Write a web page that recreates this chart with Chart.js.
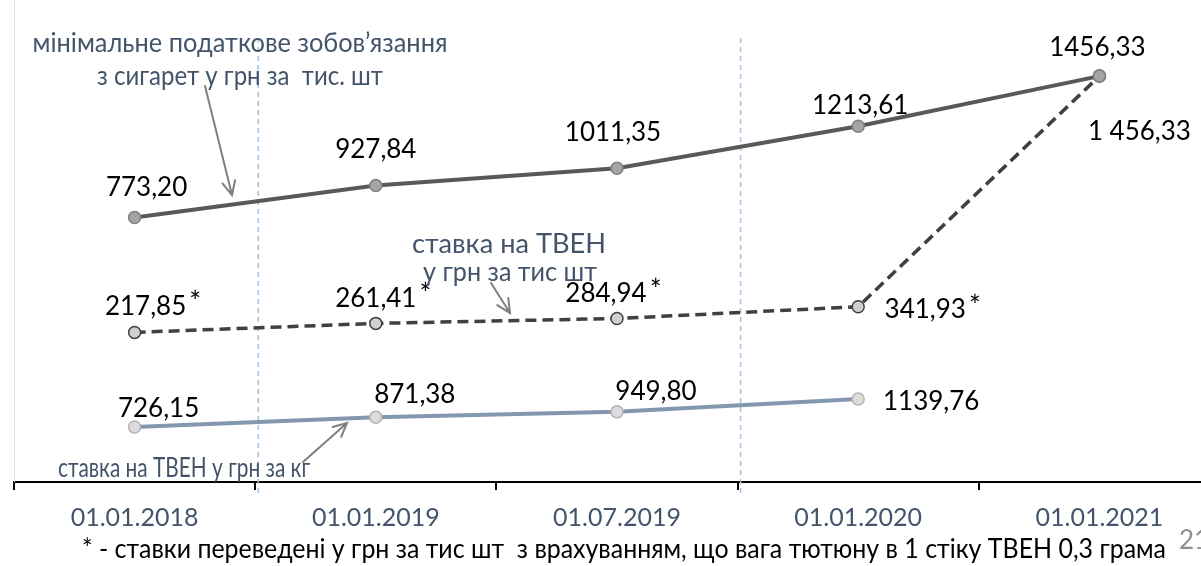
<!DOCTYPE html>
<html>
<head>
<meta charset="utf-8">
<script src="https://cdn.jsdelivr.net/npm/chart.js@4.4.1/dist/chart.umd.min.js"></script>
<style>
  html, body { margin: 0; padding: 0; background: #fff; overflow: hidden; }
  #wrap { width: 1201px; height: 566px; overflow: hidden; }
</style>
</head>
<body>
<div id="wrap"><canvas id="chart" width="1240" height="566"></canvas></div>
<script>
const categories = ['01.01.2018', '01.01.2019', '01.07.2019', '01.01.2020', '01.01.2021'];
const minTaxCigs = [773.20, 927.84, 1011.35, 1213.61, 1456.33];
const hnpPerThousand = [217.85, 261.41, 284.94, 341.93, 1456.33];
const hnpPerKg = [726.15, 871.38, 949.80, 1139.76, null];
const starred = [true, true, true, true, false];

const FONT = 'Lato, "Noto Sans", sans-serif';
const SLATE = '#44546a';

const fmt = v => v.toFixed(2).replace('.', ',');
const fmtGrouped = v => {
  const [i, d] = v.toFixed(2).split('.');
  return i.replace(/\B(?=(\d{3})+(?!\d))/g, ' ') + ',' + d;
};

// label offsets from each point (px)
const offTop = [[12, -30], [0, -36], [-4, -36], [2, -21], [-2, -28]];
const offDash = [[11, -26], [0, -25], [-11, -25], [67, 3], [40, 56]];
const offKg = [[24, -18], [39, -23], [39, -20], [73, 3]];

function txt(ctx, s, x, y, size, color, fit, align) {
  ctx.save();
  ctx.font = size + 'px ' + FONT;
  ctx.fillStyle = color;
  ctx.textBaseline = 'middle';
  ctx.textAlign = align || 'center';
  const natural = ctx.measureText(s).width;
  ctx.translate(x, y);
  if (fit) ctx.scale(fit / natural, 1);
  ctx.fillText(s, 0, 0);
  ctx.restore();
  return fit || natural;
}

function arrow(ctx, x1, y1, x2, y2) {
  const a = Math.atan2(y2 - y1, x2 - x1);
  const L = 15, t = 0.45;
  ctx.save();
  ctx.strokeStyle = '#7f7f7f';
  ctx.lineWidth = 2;
  ctx.lineCap = 'round';
  ctx.beginPath();
  ctx.moveTo(x1, y1);
  ctx.lineTo(x2, y2);
  ctx.moveTo(x2 - L * Math.cos(a - t), y2 - L * Math.sin(a - t));
  ctx.lineTo(x2, y2);
  ctx.lineTo(x2 - L * Math.cos(a + t), y2 - L * Math.sin(a + t));
  ctx.stroke();
  ctx.restore();
}

const overlay = {
  id: 'overlay',
  beforeDatasetsDraw(chart) {
    const { ctx, chartArea, scales } = chart;
    ctx.save();
    // faint left edge of plot area
    ctx.strokeStyle = '#e4e4e4';
    ctx.lineWidth = 1;
    ctx.beginPath();
    ctx.moveTo(chartArea.left + 0.5, chartArea.top);
    ctx.lineTo(chartArea.left + 0.5, chartArea.bottom);
    ctx.stroke();
    // dashed period separators
    ctx.strokeStyle = '#9dc3e6';
    ctx.lineWidth = 1.5;
    ctx.setLineDash([5, 4]);
    [0, 2].forEach(i => {
      const x = (scales.x.getPixelForValue(i) + scales.x.getPixelForValue(i + 1)) / 2 + 3;
      ctx.beginPath();
      ctx.moveTo(x, 38);
      ctx.lineTo(x, chartArea.bottom + 13);
      ctx.stroke();
    });
    ctx.restore();
  },
  afterDatasetsDraw(chart) {
    const { ctx } = chart;
    const m0 = chart.getDatasetMeta(0).data;
    const m1 = chart.getDatasetMeta(1).data;
    const m2 = chart.getDatasetMeta(2).data;

    minTaxCigs.forEach((v, i) => {
      txt(ctx, fmt(v), m0[i].x + offTop[i][0], m0[i].y + offTop[i][1], 26, '#000');
    });
    hnpPerThousand.forEach((v, i) => {
      const s = i === 4 ? fmtGrouped(v) : fmt(v);
      const x = m1[i].x + offDash[i][0], y = m1[i].y + offDash[i][1];
      const w = txt(ctx, s, x, y, 26, '#000');
      if (starred[i]) txt(ctx, '*', x + w / 2 + 9, y - 3, 28, '#000');
    });
    hnpPerKg.forEach((v, i) => {
      if (v == null) return;
      txt(ctx, fmt(v), m2[i].x + offKg[i][0], m2[i].y + offKg[i][1], 26, '#000');
    });

    // callouts
    txt(ctx, 'мінімальне податкове зобов’язання', 240, 44, 26, SLATE, 415);
    txt(ctx, 'з сигарет у грн за  тис. шт', 240, 77, 26, SLATE, 286);
    arrow(ctx, 205, 86, 232, 195);

    txt(ctx, 'ставка на ТВЕН', 509, 245, 26, SLATE, 194);
    txt(ctx, 'у грн за тис шт', 510, 273, 26, SLATE, 174);
    arrow(ctx, 491, 283, 510, 313);

    txt(ctx, 'ставка на ТВЕН у грн за кг', 184, 469, 26, SLATE, 252);
    arrow(ctx, 303, 462, 347, 423);

    // footnote and slide number
    txt(ctx, '* - ставки переведені у грн за тис шт  з врахуванням, що вага тютюну в 1 стіку ТВЕН 0,3 грама', 624, 550, 26, '#000', 1084);
    txt(ctx, '21', 1179, 541, 26, '#8c8c8c', null, 'left');
  }
};

new Chart(document.getElementById('chart'), {
  type: 'line',
  data: {
    labels: categories,
    datasets: [
      {
        label: 'мінімальне податкове зобов’язання з сигарет у грн за тис. шт',
        data: minTaxCigs,
        yAxisID: 'y',
        borderColor: '#595959',
        borderWidth: 4,
        pointRadius: 6,
        pointBackgroundColor: '#a5a5a5',
        pointBorderColor: '#7f7f7f',
        pointBorderWidth: 1.5,
        tension: 0
      },
      {
        label: 'ставка на ТВЕН у грн за тис шт',
        data: hnpPerThousand,
        yAxisID: 'y',
        borderColor: '#404040',
        borderWidth: 3.5,
        borderDash: [11, 6],
        pointRadius: 6,
        pointBackgroundColor: '#d0d0d0',
        pointBorderColor: '#404040',
        pointBorderWidth: 1.5,
        tension: 0
      },
      {
        label: 'ставка на ТВЕН у грн за кг',
        data: hnpPerKg,
        yAxisID: 'y2',
        borderColor: '#8497b0',
        borderWidth: 4,
        pointRadius: 6,
        pointBackgroundColor: '#dcdcdc',
        pointBorderColor: '#b3b3b3',
        pointBorderWidth: 1.5,
        tension: 0
      }
    ]
  },
  options: {
    responsive: false,
    animation: false,
    devicePixelRatio: 1,
    layout: { padding: { left: 14, right: 20, top: 0, bottom: 0 }, autoPadding: false },
    plugins: { legend: { display: false }, tooltip: { enabled: false } },
    scales: {
      x: {
        offset: true,
        grid: { offset: true, drawOnChartArea: false, drawTicks: true, tickLength: 8, color: '#000', lineWidth: 2 },
        border: { display: true, color: '#000', width: 2 },
        ticks: { color: SLATE, font: { family: FONT, size: 25 }, padding: 13, maxRotation: 0, autoSkip: false },
        afterFit: s => { s.height = 84; }
      },
      y: { display: false, min: -505, max: 1824 },
      y2: { display: false, min: -86, max: 7033 }
    }
  },
  plugins: [overlay]
});
</script>
</body>
</html>
